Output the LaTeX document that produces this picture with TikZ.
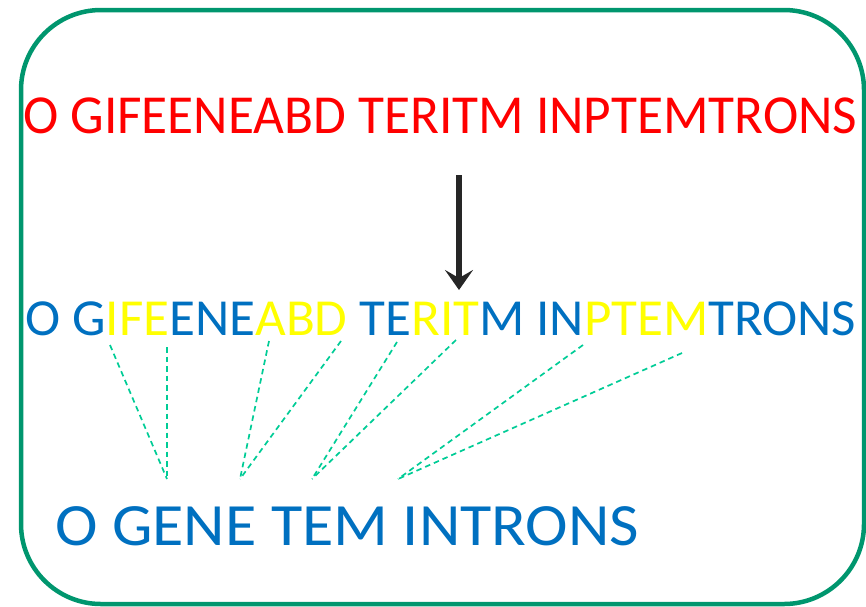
\documentclass[tikz,border=0pt]{standalone}
\usepackage{fontspec}
\usepackage{graphicx}
\setmainfont{Carlito}
\usetikzlibrary{arrows.meta}
\definecolor{frameGreen}{RGB}{0,150,110}
\definecolor{dashGreen}{RGB}{0,204,150}
\definecolor{txtBlue}{RGB}{0,112,192}
\definecolor{txtYellow}{RGB}{255,255,0}
\definecolor{txtRed}{RGB}{255,0,0}
\definecolor{arrowDark}{RGB}{38,38,38}
\newcommand{\yl}[1]{\textcolor{txtYellow}{#1}}
\tikzset{
  linetext/.style={inner sep=0pt, anchor=base west},
  link/.style={draw=dashGreen, dash pattern=on 5.5pt off 4pt, line width=1.7pt},
  mainarrow/.style={draw=arrowDark, line width=5.5pt, -{Stealth[length=20pt,width=28pt,inset=8pt]}},
  frame/.style={draw=frameGreen, line width=4.5pt, rounded corners=80pt}
}
\begin{document}
\begin{tikzpicture}[x=1pt,y=-1pt]
\useasboundingbox (0,0) rectangle (866,606);
\draw[frame] (21,10) rectangle (864,604);
\node[linetext, text=txtRed] (top) at (23,133) {\resizebox{834pt}{\height}{\fontsize{55}{60}\selectfont O GIFEENEABD TERITM INPTEMTRONS}};
\node[linetext, text=txtBlue] (mid) at (25,335) {\resizebox{831pt}{\height}{\fontsize{52}{60}\selectfont O G\yl{IFE}ENE\yl{ABD} TE\yl{RIT}M IN\yl{PTEM}TRONS}};
\node[linetext, text=txtBlue] (low) at (55,545) {\resizebox{584pt}{\height}{\fontsize{60}{66}\selectfont O GENE TEM INTRONS}};
\coordinate (arrS) at (459,175);
\coordinate (arrE) at (459,290);
\draw[mainarrow] (arrS) -- (arrE);
\coordinate (u1) at (110,345);
\coordinate (u2) at (167,347);
\coordinate (u3) at (269,341);
\coordinate (u4) at (341,341);
\coordinate (u5) at (397,342);
\coordinate (u6) at (456,340);
\coordinate (u7) at (583,345);
\coordinate (u8) at (682,353);
\coordinate (g1) at (167,479);
\coordinate (g2) at (240,479);
\coordinate (g3) at (312,479);
\coordinate (g4) at (398,479);
\draw[link] (u1) -- (g1);
\draw[link] (u2) -- (g1);
\draw[link] (u3) -- (g2);
\draw[link] (u4) -- (g2);
\draw[link] (u5) -- (g3);
\draw[link] (u6) -- (g3);
\draw[link] (u7) -- (g4);
\draw[link] (u8) -- (g4);
\end{tikzpicture}
\end{document}
